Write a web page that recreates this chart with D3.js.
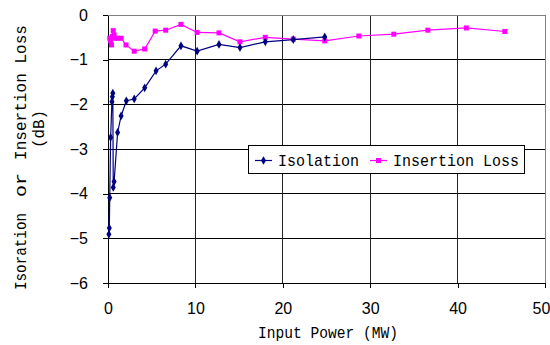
<!DOCTYPE html>
<html>
<head>
<meta charset="utf-8">
<script src="https://cdn.jsdelivr.net/npm/d3@7"></script>
<style>
  body { margin: 0; background: #fff; }
  svg { display: block; }
</style>
</head>
<body>
<svg id="chart" width="550" height="345"></svg>
<script>
// data
let isoX = [0.2, 0.1, 0.15, 0.3, 0.45, 0.5, 0.55, 0.6, 0.7, 1.1, 1.5, 2.1, 3.0, 4.2, 5.5, 6.6, 8.35, 10.2, 12.7, 15.1, 18.0, 21.2, 24.8];
let isoY = [-4.09, -4.91, -4.77, -2.74, -1.94, -1.83, -1.75, -3.86, -3.73, -2.63, -2.26, -1.92, -1.88, -1.63, -1.25, -1.10, -0.69, -0.81, -0.66, -0.73, -0.60, -0.55, -0.49];

let insX = [0.2, 0.3, 0.4, 0.5, 0.6, 0.7, 0.8, 1.1, 1.5, 2.06, 3.0, 4.2, 5.4, 6.6, 8.35, 10.2, 12.7, 15.1, 18.0, 21.2, 24.8, 28.7, 32.7, 36.6, 41.0, 45.4];
let insY = [-0.52, -0.58, -0.67, -0.48, -0.35, -0.45, -0.52, -0.52, -0.52, -0.67, -0.81, -0.76, -0.36, -0.34, -0.21, -0.39, -0.40, -0.60, -0.50, -0.54, -0.58, -0.47, -0.43, -0.34, -0.29, -0.37];

let xTicks = [0, 10, 20, 30, 40, 50];
let yTicks = [0, -1, -2, -3, -4, -5, -6];
let seriesNames = ["Isolation", "Insertion Loss"];

let svg = d3.select("#chart");
let pLeft = 108, pRight = 545, pTop = 15, pBottom = 283;

let x = d3.scaleLinear().domain([0, 50]).range([pLeft, pRight]);
let y = d3.scaleLinear().domain([0, -6]).range([pTop, pBottom]);

let monoFont = "'Liberation Mono', 'DejaVu Sans Mono', monospace";
let numFont = "'Liberation Sans', Arial, sans-serif";

// squeeze a monospaced string into a given char pitch so it looks like the narrow original font
function mono(sel, str, size, pitch) {
  sel.text(str)
    .attr("font-family", monoFont)
    .attr("font-size", size)
    .attr("textLength", str.length * pitch)
    .attr("lengthAdjust", "spacingAndGlyphs");
  return sel;
}

// grid
let grid = svg.append("g").attr("shape-rendering", "crispEdges");
grid.selectAll(".hg").data(yTicks.filter(d => d < 0 && d > -6)).enter()
  .append("line")
  .attr("x1", pLeft).attr("x2", pRight)
  .attr("y1", d => y(d)).attr("y2", d => y(d))
  .attr("stroke", "#000");
grid.selectAll(".vg").data(xTicks.filter(d => d > 0 && d < 50)).enter()
  .append("line")
  .attr("x1", d => x(d)).attr("x2", d => x(d))
  .attr("y1", pTop).attr("y2", pBottom)
  .attr("stroke", "#222");
// plot border (top & right are gray)
grid.append("line").attr("x1", pLeft).attr("x2", pRight).attr("y1", pTop).attr("y2", pTop).attr("stroke", "#808080");
grid.append("line").attr("x1", pRight).attr("x2", pRight).attr("y1", pTop).attr("y2", pBottom).attr("stroke", "#808080");

// axes
let xAxis = svg.append("g")
  .attr("transform", "translate(0," + pBottom + ")")
  .call(d3.axisBottom(x).tickValues(xTicks).tickSizeInner(5).tickSizeOuter(0).tickFormat(d3.format("d")));
xAxis.select(".domain").attr("stroke", "#000").attr("shape-rendering", "crispEdges");
xAxis.selectAll(".tick line").attr("stroke", "#000").attr("shape-rendering", "crispEdges");
xAxis.selectAll(".tick text")
  .attr("font-family", numFont).attr("font-size", 16).attr("fill", "#000")
  .attr("y", 20)
  .attr("x", d => d == 50 ? -4 : 0);

let yAxis = svg.append("g")
  .attr("transform", "translate(" + pLeft + ",0)")
  .call(d3.axisLeft(y).tickValues(yTicks).tickSizeInner(5).tickSizeOuter(0)
    .tickFormat(d => d < 0 ? "\u2212" + (-d) : d));
yAxis.select(".domain").attr("stroke", "#000").attr("shape-rendering", "crispEdges");
yAxis.selectAll(".tick line").attr("stroke", "#000").attr("shape-rendering", "crispEdges");
yAxis.selectAll(".tick text")
  .attr("font-family", numFont).attr("font-size", 16).attr("fill", "#000")
  .attr("x", -20);

// series
let isoData = isoX.map((v, i) => ({ x: v, y: isoY[i] }));
let insData = insX.map((v, i) => ({ x: v, y: insY[i] }));
let line = d3.line().x(d => x(d.x)).y(d => y(d.y));

svg.append("path").datum(insData)
  .attr("d", line).attr("fill", "none").attr("stroke", "#FF00FF").attr("stroke-width", 1.2);
svg.append("g").selectAll("rect").data(insData).enter()
  .append("rect")
  .attr("x", d => x(d.x) - 2.5).attr("y", d => y(d.y) - 2.5)
  .attr("width", 5).attr("height", 5)
  .attr("fill", "#FF00FF");

svg.append("path").datum(isoData)
  .attr("d", line).attr("fill", "none").attr("stroke", "#000080").attr("stroke-width", 1.2);
let diamond = d3.symbol().type(d3.symbolDiamond).size(22);
svg.append("g").selectAll("path").data(isoData).enter()
  .append("path")
  .attr("transform", d => "translate(" + x(d.x) + "," + y(d.y) + ")")
  .attr("d", diamond)
  .attr("fill", "#000080");

// legend
let lg = svg.append("g");
lg.append("rect")
  .attr("x", 248.5).attr("y", 145.5).attr("width", 276).attr("height", 28)
  .attr("fill", "#fff").attr("stroke", "#000");
let legendItems = [
  { name: seriesNames[0], color: "#000080", lx: 255, tx: 278, mark: "d" },
  { name: seriesNames[1], color: "#FF00FF", lx: 370, tx: 393, mark: "s" }
];
legendItems.forEach(function(it) {
  lg.append("line")
    .attr("x1", it.lx).attr("x2", it.lx + 17).attr("y1", 160.5).attr("y2", 160.5)
    .attr("stroke", it.color).attr("stroke-width", 1.2);
  if (it.mark == "d") {
    lg.append("path").attr("d", diamond)
      .attr("transform", "translate(" + (it.lx + 8.5) + ",160.5)").attr("fill", it.color);
  } else {
    lg.append("rect").attr("x", it.lx + 6).attr("y", 158).attr("width", 5).attr("height", 5).attr("fill", it.color);
  }
  mono(lg.append("text").attr("x", it.tx).attr("y", 166), it.name, 17, 9);
});

// axis titles
let xt = svg.append("text").attr("x", 258).attr("y", 338);
mono(xt, "Input Power (MW)", 17, 8.75);

// y title: words are spread apart in the original, so place them as tspans
let yt1 = svg.append("text").attr("transform", "translate(26,0) rotate(-90)")
  .attr("font-family", monoFont).attr("font-size", 17);
[["Isoration", -290, 77], ["or", -197, 24], ["Insertion Loss", -160, 135]].forEach(function(w) {
  yt1.append("tspan").attr("x", w[1]).attr("y", 0)
    .attr("textLength", w[2]).attr("lengthAdjust", "spacingAndGlyphs")
    .text(w[0]);
});
let yt2 = svg.append("text").attr("transform", "translate(44,148) rotate(-90)");
mono(yt2, "(dB)", 17, 9.5);
</script>
</body>
</html>
